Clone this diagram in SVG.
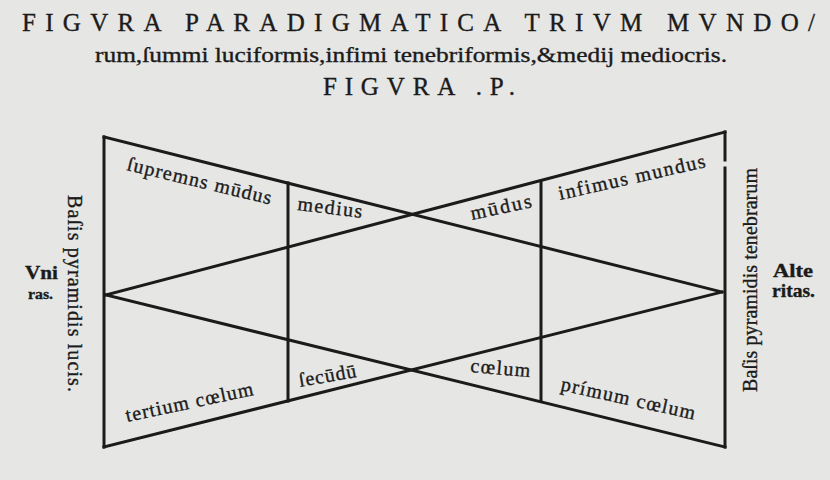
<svg xmlns="http://www.w3.org/2000/svg" width="830" height="480" viewBox="0 0 830 480">
<style>
.ln{stroke:#1b1b1b;stroke-width:3;fill:none;stroke-linecap:square}
.t{font-family:"Liberation Serif","DejaVu Serif",serif;fill:#1b1b1b;stroke:#1b1b1b;stroke-width:0.35}
.cap{font-size:25px}
.lab{font-size:20px}
.side{font-size:19px;font-weight:bold}
</style>
<rect x="0" y="0" width="830" height="480" fill="#e6e6e4"/>
<g id="title" class="t">
<text class="cap" x="22" y="31" textLength="793" lengthAdjust="spacing">FIGVRA PARADIGMATICA TRIVM MVNDO/</text>
<text x="95" y="62" font-size="21" textLength="632" lengthAdjust="spacingAndGlyphs">rum,ſummi luciformis,infimi tenebriformis,&amp;medij mediocris.</text>
<text class="cap" x="323" y="95" textLength="192" lengthAdjust="spacing">FIGVRA .P.</text>
</g>
<g id="connectors">
<g id="pyramis-lucis">
<line class="ln" x1="104" y1="137" x2="104" y2="447"/>
<line class="ln" x1="104" y1="137" x2="722" y2="292"/>
<line class="ln" x1="104" y1="447" x2="722" y2="292"/>
</g>
<g id="pyramis-tenebrarum">
<line class="ln" x1="725" y1="132" x2="725" y2="160"/>
<line class="ln" x1="725" y1="168" x2="725" y2="447"/>
<line class="ln" x1="106" y1="295" x2="725" y2="132"/>
<line class="ln" x1="106" y1="295" x2="725" y2="447"/>
</g>
<g id="divisiones">
<line class="ln" x1="288" y1="183" x2="288" y2="401"/>
<line class="ln" x1="541" y1="181" x2="541" y2="400"/>
</g>
</g>
<g id="supremus" class="t lab"><text transform="translate(126,170) rotate(13.5)" textLength="148" lengthAdjust="spacing">ſupremns mūdus</text></g>
<g id="medius" class="t lab"><text transform="translate(297,210) rotate(7)" textLength="65" lengthAdjust="spacing">medius</text></g>
<g id="mudus" class="t lab"><text transform="translate(472,220) rotate(-12)" textLength="62" lengthAdjust="spacing">mūdus</text></g>
<g id="infimus" class="t lab"><text transform="translate(560,200) rotate(-12.7)" textLength="150" lengthAdjust="spacing">infimus mundus</text></g>
<g id="tertium" class="t lab"><text transform="translate(127,422) rotate(-12)" textLength="130" lengthAdjust="spacing">tertium cœlum</text></g>
<g id="secundum" class="t lab"><text transform="translate(300,387) rotate(-10)" textLength="58" lengthAdjust="spacing">ſecūdū</text></g>
<g id="coelum" class="t lab"><text transform="translate(470,372) rotate(5)" textLength="60" lengthAdjust="spacing">cœlum</text></g>
<g id="primum" class="t lab"><text transform="translate(560,390) rotate(12.5)" textLength="137" lengthAdjust="spacing">prímum cœlum</text></g>
<g id="unitas" class="t side">
<text x="25" y="279" textLength="33" lengthAdjust="spacingAndGlyphs">Vni</text>
<text x="28" y="299" font-size="15" textLength="25" lengthAdjust="spacingAndGlyphs">ras.</text>
</g>
<g id="alteritas" class="t side">
<text x="773" y="277" textLength="40" lengthAdjust="spacingAndGlyphs">Alte</text>
<text x="772" y="297" textLength="43" lengthAdjust="spacingAndGlyphs">ritas.</text>
</g>
<g id="basis-lucis" class="t lab"><text transform="translate(68,195) rotate(90)" textLength="197" lengthAdjust="spacing">Baſis pyramidis lucis.</text></g>
<g id="basis-tenebrarum" class="t lab"><text transform="translate(757,392) rotate(-90)" textLength="224" lengthAdjust="spacing">Baſis pyramidis tenebrarum</text></g>
</svg>
